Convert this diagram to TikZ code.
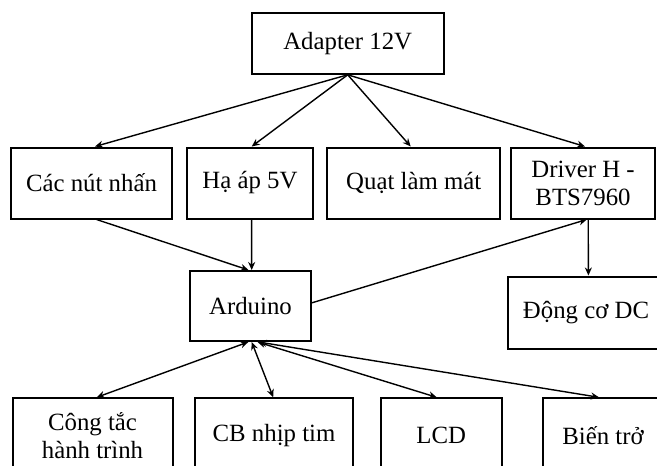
\documentclass[tikz,border=0pt]{standalone}
\usepackage{fontspec}
\setmainfont{Liberation Serif}
\usetikzlibrary{arrows.meta}

\begin{document}
\begin{tikzpicture}[x=0.5pt,y=-0.5pt]
		\tikzstyle{block} = [draw, rectangle, line width=1pt, align=center, inner sep=0pt, font=\fontsize{12.4}{14}\selectfont]
		\tikzstyle{link} = [-{Stealth[length=4pt,width=3.5pt]}, line width=0.7pt]
		\tikzstyle{both} = [{Stealth[length=4pt,width=3.5pt]}-{Stealth[length=4pt,width=3.5pt]}, line width=0.7pt]
		\clip (0,0) rectangle (657,465);
		\node [block, minimum width=96pt, minimum height=30.5pt] (adapter) at (347.7,43.3) {Adapter 12V};
		\node [block, minimum width=80.5pt, minimum height=35.5pt] (nut) at (91.5,183) {Các nút nhấn};
		\node [block, minimum width=63.3pt, minimum height=35.5pt] (haap) at (250,183) {Hạ áp 5V};
		\node [block, minimum width=86.3pt, minimum height=35.5pt] (quat) at (413.7,183) {Quạt làm mát};
		\node [block, minimum width=72pt, minimum height=35.5pt] (driver) at (583,183) {Driver H -\\BTS7960};
		\node [block, minimum width=60.5pt, minimum height=35pt] (arduino) at (250.5,306) {Arduino};
		\node [block, minimum width=78pt, minimum height=36pt] (dongco) at (586,312.5) {Động cơ DC};
		\node [block, minimum width=80pt, minimum height=37pt] (congtac) at (92.5,435.3) {Công tắc\\hành trình};
		\node [block, minimum width=79pt, minimum height=37pt] (cb) at (274,435.3) {CB nhịp tim};
		\node [block, minimum width=60.5pt, minimum height=37pt] (lcd) at (441.2,435.3) {LCD};
		\node [block, minimum width=60pt, minimum height=37pt] (bientro) at (603,435.3) {Biến trở};

		\draw[link] (adapter.south) -- ([xshift=1.75pt]nut.north);
		\draw[link] (adapter.south) -- ([xshift=0.85pt]haap.north);
		\draw[link] (adapter.south) -- ([xshift=-1.5pt]quat.north);
		\draw[link] (adapter.south) -- ([xshift=1pt]driver.north);
		\draw[link] ([xshift=2.5pt]nut.south) -- ([xshift=-1pt]arduino.north);
		\draw[link] ([xshift=0.8pt]haap.south) -- ([xshift=0.6pt]arduino.north);
		\draw[link] ([yshift=1.6pt]arduino.east) -- ([xshift=1.9pt]driver.south);
		\draw[link] ([xshift=2.6pt]driver.south) -- ([xshift=1.2pt]dongco.north);
		\draw[both] ([xshift=-1.1pt]arduino.south) -- ([xshift=2.1pt]congtac.north);
		\draw[both] ([xshift=0.6pt]arduino.south) -- ([xshift=-0.4pt]cb.north);
		\draw[both] ([xshift=3.5pt]arduino.south) -- ([xshift=-2.25pt]lcd.north);
		\draw[both] ([xshift=4pt]arduino.south) -- ([xshift=-2pt]bientro.north);
	\end{tikzpicture}
\end{document}
